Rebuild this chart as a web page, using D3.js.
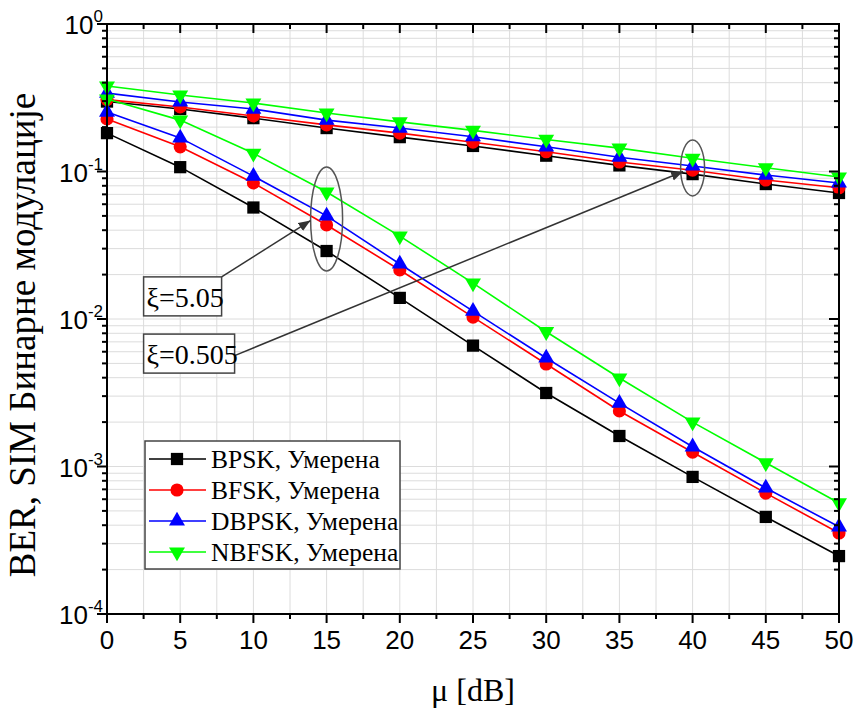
<!DOCTYPE html>
<html>
<head>
<meta charset="utf-8">
<script src="https://cdn.jsdelivr.net/npm/d3@7"></script>
<style>
  body { margin: 0; background: #fff; }
  svg { display: block; }
</style>
</head>
<body>
<svg id="chart" width="855" height="709"></svg>
<script>
// x values (mu in dB)
const muDb = [0, 5, 10, 15, 20, 25, 30, 35, 40, 45, 50];

// xi = 5.05 (steep curves)
const bpskSteep  = [0.182, 0.107, 0.057, 0.0289, 0.0139, 0.0066, 0.00315, 0.00161, 0.00085, 0.000455, 0.000247];
const bfskSteep  = [0.227, 0.147, 0.0836, 0.0434, 0.0215, 0.0103, 0.00495, 0.00238, 0.00125, 0.00066, 0.000354];
const dbpskSteep = [0.253, 0.169, 0.093, 0.05, 0.0236, 0.0113, 0.00544, 0.00269, 0.00136, 0.000715, 0.00039];
const nbfskSteep = [0.31, 0.223, 0.133, 0.0726, 0.0365, 0.0175, 0.0082, 0.00398, 0.002, 0.00106, 0.000566];

// xi = 0.505 (flat curves)
const bpskFlat  = [0.298, 0.265, 0.23, 0.197, 0.171, 0.149, 0.128, 0.11, 0.096, 0.0822, 0.0715];
const bfskFlat  = [0.307, 0.274, 0.238, 0.207, 0.182, 0.158, 0.136, 0.116, 0.102, 0.0875, 0.0776];
const dbpskFlat = [0.34, 0.296, 0.265, 0.223, 0.197, 0.172, 0.147, 0.125, 0.109, 0.0946, 0.0836];
const nbfskFlat = [0.38, 0.33, 0.291, 0.249, 0.217, 0.19, 0.165, 0.144, 0.123, 0.106, 0.0918];

const seriesNames  = ["BPSK, Умерена", "BFSK, Умерена", "DBPSK, Умерена", "NBFSK, Умерена"];
const seriesColors = ["#000000", "#ff0000", "#0000ff", "#00ff00"];
const seriesShapes = ["square", "circle", "triangle", "triangleDown"];

const xTicks = [0, 5, 10, 15, 20, 25, 30, 35, 40, 45, 50];
const yTickExps = [0, -1, -2, -3, -4];

const xLabel = "μ [dB]";
const yLabel = "BER, SIM Бинарне модулације";
const annotationLabels = ["ξ=5.05", "ξ=0.505"];

// ---- layout
const margin = { top: 24, right: 16, bottom: 95, left: 107 };
const width = 855, height = 709;
const svg = d3.select("#chart");

const x = d3.scaleLinear().domain([0, 50]).range([margin.left, width - margin.right]);
const y = d3.scaleLog().domain([1e-4, 1]).range([height - margin.bottom, margin.top]);

const x0 = x.range()[0], x1 = x.range()[1];
const yb = y.range()[0], yt = y.range()[1];

// minor positions
const xMinor = d3.range(0, 50.001, 2.5);
let yMinor = [];
yTickExps.slice(1).forEach(e => {
  for (let m = 1; m <= 9; m++) yMinor.push(m * Math.pow(10, e));
});
yMinor.push(1);

// ---- grid
const grid = svg.append("g").attr("stroke", "#dcdcdc").attr("stroke-width", 1);
xMinor.forEach(v => {
  grid.append("line").attr("x1", x(v)).attr("x2", x(v)).attr("y1", yt).attr("y2", yb);
});
yMinor.forEach(v => {
  grid.append("line").attr("x1", x0).attr("x2", x1).attr("y1", y(v)).attr("y2", y(v));
});

// ---- curves
const line = d3.line().x(d => x(d[0])).y(d => y(d[1]));
const steep = [bpskSteep, bfskSteep, dbpskSteep, nbfskSteep];
const flat = [bpskFlat, bfskFlat, dbpskFlat, nbfskFlat];

function symbolPath(shape) {
  if (shape === "square") return d3.symbol(d3.symbolSquare, 150)();
  if (shape === "circle") return d3.symbol(d3.symbolCircle, 135)();
  return d3.symbol(d3.symbolTriangle, 110)();
}

function drawMarker(g, shape, color, cx, cy) {
  g.append("path")
    .attr("d", symbolPath(shape))
    .attr("fill", color)
    .attr("transform", `translate(${cx},${cy})` + (shape === "triangleDown" ? " rotate(180)" : ""));
}

const curves = svg.append("g");
seriesNames.forEach((name, i) => {
  [flat[i], steep[i]].forEach(vals => {
    const pts = muDb.map((m, j) => [m, vals[j]]);
    curves.append("path")
      .attr("d", line(pts))
      .attr("fill", "none")
      .attr("stroke", seriesColors[i])
      .attr("stroke-width", 1.6);
    pts.forEach(p => drawMarker(curves, seriesShapes[i], seriesColors[i], x(p[0]), y(p[1])));
  });
});

// ---- axes frame + ticks
const ax = svg.append("g").attr("stroke", "#000");
ax.append("rect").attr("x", x0).attr("y", yt).attr("width", x1 - x0).attr("height", yb - yt)
  .attr("fill", "none").attr("stroke-width", 2);

xMinor.forEach(v => {
  const major = v % 5 === 0;
  const len = major ? 9 : 5;
  // bottom: outward
  ax.append("line").attr("x1", x(v)).attr("x2", x(v)).attr("y1", yb).attr("y2", yb + len).attr("stroke-width", 2);
  // top: inward
  ax.append("line").attr("x1", x(v)).attr("x2", x(v)).attr("y1", yt).attr("y2", yt + len).attr("stroke-width", 2);
});
yMinor.forEach(v => {
  const major = Math.abs(Math.log10(v) - Math.round(Math.log10(v))) < 1e-9;
  const len = major ? 10 : 5;
  ax.append("line").attr("x1", x0).attr("x2", x0 - len).attr("y1", y(v)).attr("y2", y(v)).attr("stroke-width", 2);
  ax.append("line").attr("x1", x1).attr("x2", x1 - len).attr("y1", y(v)).attr("y2", y(v)).attr("stroke-width", 2);
});

// tick labels
const sans = "'Liberation Sans', Arial, sans-serif";
const serif = "'Liberation Serif', 'Times New Roman', serif";

svg.append("g").selectAll("text").data(xTicks).join("text")
  .attr("x", d => x(d)).attr("y", yb + 35)
  .attr("text-anchor", "middle")
  .attr("font-family", sans).attr("font-size", 26)
  .text(d => d);

const yl = svg.append("g");
yTickExps.forEach(e => {
  const t = yl.append("text")
    .attr("x", x0 - 4).attr("y", y(Math.pow(10, e)) + 10)
    .attr("text-anchor", "end")
    .attr("font-family", sans).attr("font-size", 26);
  t.append("tspan").text("10");
  t.append("tspan").attr("dy", -12).attr("font-size", 17).text(e === 0 ? "0" : "-" + Math.abs(e));
});

// axis titles
svg.append("text")
  .attr("x", (x0 + x1) / 2).attr("y", 701)
  .attr("text-anchor", "middle")
  .attr("font-family", serif).attr("font-size", 32)
  .text(xLabel);

svg.append("text")
  .attr("transform", `translate(35,${(yt + yb) / 2 + 16}) rotate(-90)`)
  .attr("text-anchor", "middle")
  .attr("font-family", serif).attr("font-size", 37)
  .text(yLabel);

// ---- legend
const legend = svg.append("g");
legend.append("rect")
  .attr("x", 145).attr("y", 441).attr("width", 255).attr("height", 128)
  .attr("fill", "#fff").attr("stroke", "#444").attr("stroke-width", 1.5);
seriesNames.forEach((name, i) => {
  const ly = 459 + i * 31;
  legend.append("line").attr("x1", 149).attr("x2", 206).attr("y1", ly).attr("y2", ly)
    .attr("stroke", seriesColors[i]).attr("stroke-width", 1.6);
  drawMarker(legend, seriesShapes[i], seriesColors[i], 177, ly);
  legend.append("text")
    .attr("x", 211).attr("y", ly + 9)
    .attr("font-family", serif).attr("font-size", 25.5)
    .text(name);
});

// ---- annotations (anchored in data units)
const annotations = [
  { label: annotationLabels[0], boxX: 2.5, boxTop: 0.0193, boxW: 78, ex: 15, ey: 0.0476, rx: 16, ry: 52, tipX: 13.9, tipY: 0.0465, from: "topRight" },
  { label: annotationLabels[1], boxX: 2.5, boxTop: 0.0079, boxW: 91, ex: 40, ey: 0.1056, rx: 12, ry: 28, tipX: 39.35, tipY: 0.1, from: "right" }
];

svg.append("defs").append("marker")
  .attr("id", "arrow").attr("viewBox", "0 0 10 10")
  .attr("refX", 10).attr("refY", 5)
  .attr("markerWidth", 12).attr("markerHeight", 12)
  .attr("markerUnits", "userSpaceOnUse")
  .attr("orient", "auto")
  .append("path").attr("d", "M0,1 L10,5 L0,9 Z").attr("fill", "#333");

const ann = svg.append("g");
annotations.forEach(a => {
  const bx = x(a.boxX), by = y(a.boxTop), bh = 39;
  ann.append("ellipse")
    .attr("cx", x(a.ex)).attr("cy", y(a.ey)).attr("rx", a.rx).attr("ry", a.ry)
    .attr("fill", "none").attr("stroke", "#555").attr("stroke-width", 1.5);
  const sx = bx + a.boxW;
  const sy = a.from === "topRight" ? by : by + bh / 2 + 2;
  ann.append("line")
    .attr("x1", sx).attr("y1", sy).attr("x2", x(a.tipX)).attr("y2", y(a.tipY))
    .attr("stroke", "#333").attr("stroke-width", 1.5)
    .attr("marker-end", "url(#arrow)");
  ann.append("rect")
    .attr("x", bx).attr("y", by).attr("width", a.boxW).attr("height", bh)
    .attr("fill", "#fff").attr("stroke", "#444").attr("stroke-width", 1.5);
  ann.append("text")
    .attr("x", bx + 3).attr("y", by + 30)
    .attr("font-family", serif).attr("font-size", 28)
    .text(a.label);
});
</script>
</body>
</html>
